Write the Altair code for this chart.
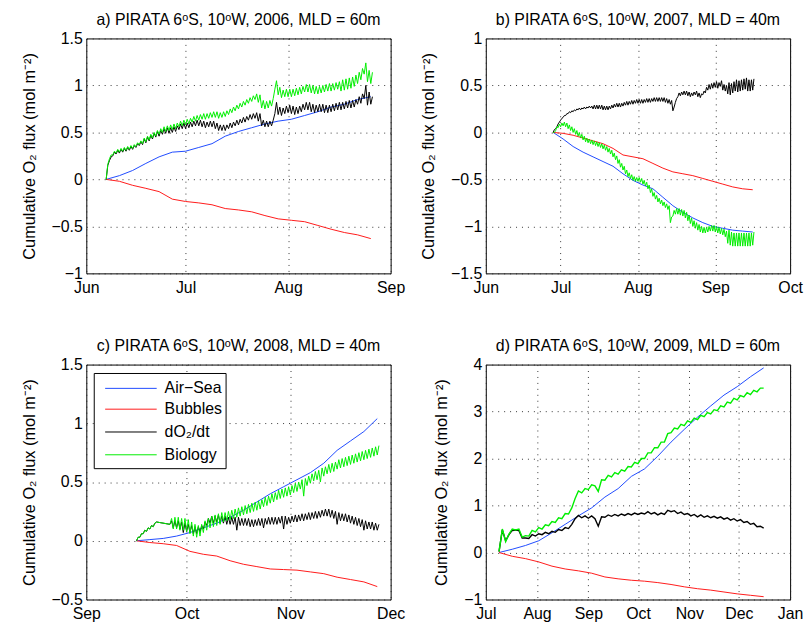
import altair as alt
import pandas as pd

SERIES = ["Air−Sea", "Bubbles", "dO₂/dt", "Biology"]
COLORS = ["#1f4bff", "#ff1a1a", "#000000", "#00ee00"]
YTITLE = "Cumulative O₂ flux (mol m⁻²)"
FONT = "Liberation Sans"

# Noisy series (dO2/dt, Biology) of panels a-c are given as the daily low (start of day)
# and daily high (mid-day); None marks days with no data.

# ---------------- panel a (2006) ----------------
A_TITLE = "a) PIRATA 6ᵒS, 10ᵒW, 2006, MLD = 60m"
A_START = "2006-06-07"
A_SMOOTH_STEP = 4
A_AIRSEA = [0, 0.04, 0.095, 0.17, 0.24, 0.29, 0.30, 0.34, 0.38, 0.46, 0.51, 0.55, 0.59,
            0.62, 0.64, 0.68, 0.72, 0.77, 0.80, 0.85, 0.88]
A_BUBBLES = [0, -0.02, -0.063, -0.095, -0.13, -0.21, -0.235, -0.25, -0.27, -0.31, -0.325,
             -0.345, -0.385, -0.42, -0.435, -0.45, -0.49, -0.53, -0.565, -0.59, -0.63]
A_DO2_LO = [0.00, 0.20, 0.25, 0.27, 0.28, 0.29, 0.30, 0.31, 0.32, 0.34,
            0.36, 0.37, 0.39, 0.41, 0.43, 0.45, 0.46, 0.48, 0.49, 0.49,
            0.50, 0.51, 0.53, 0.54, 0.54, 0.55, 0.56, 0.57, 0.57, 0.56,
            0.55, 0.56, 0.56, 0.54, 0.52, 0.52, 0.52, 0.54, 0.55, 0.57,
            0.58, 0.60, 0.61, 0.63, 0.64, 0.65, 0.62, 0.57, 0.56, 0.56,
            0.57, 0.70, 0.69, 0.68, 0.70, 0.71, 0.70, 0.69, 0.70, 0.72,
            0.74, 0.74, 0.72, 0.71, 0.72, 0.72, 0.71, 0.71, 0.72, 0.73,
            0.74, 0.74, 0.75, 0.76, 0.76, 0.77, 0.80, 0.81, 0.86, 0.79,
            0.80]
A_DO2_HI = [0.15, 0.24, 0.29, 0.31, 0.32, 0.33, 0.34, 0.35, 0.36, 0.38,
            0.40, 0.43, 0.45, 0.47, 0.49, 0.51, 0.52, 0.54, 0.55, 0.55,
            0.56, 0.57, 0.59, 0.60, 0.60, 0.61, 0.62, 0.63, 0.63, 0.62,
            0.61, 0.62, 0.62, 0.60, 0.58, 0.58, 0.58, 0.60, 0.61, 0.63,
            0.64, 0.66, 0.67, 0.69, 0.70, 0.71, 0.70, 0.63, 0.62, 0.62,
            0.63, 0.82, 0.77, 0.76, 0.78, 0.79, 0.78, 0.77, 0.78, 0.80,
            0.82, 0.82, 0.80, 0.79, 0.80, 0.80, 0.79, 0.79, 0.80, 0.81,
            0.82, 0.82, 0.83, 0.84, 0.84, 0.85, 0.88, 0.91, 1.00, 0.93,
            0.88]
A_BIO_LO = [0.00, 0.22, 0.26, 0.28, 0.29, 0.30, 0.31, 0.32, 0.33, 0.35,
            0.37, 0.38, 0.40, 0.42, 0.44, 0.46, 0.48, 0.50, 0.51, 0.52,
            0.53, 0.54, 0.56, 0.57, 0.58, 0.59, 0.61, 0.62, 0.63, 0.64,
            0.64, 0.65, 0.66, 0.66, 0.65, 0.66, 0.67, 0.69, 0.71, 0.73,
            0.75, 0.77, 0.79, 0.81, 0.83, 0.85, 0.82, 0.76, 0.75, 0.76,
            0.78, 0.96, 0.90, 0.87, 0.88, 0.88, 0.88, 0.89, 0.90, 0.91,
            0.93, 0.93, 0.92, 0.91, 0.91, 0.92, 0.93, 0.94, 0.94, 0.95,
            0.96, 0.94, 0.95, 0.96, 0.97, 0.99, 1.02, 1.06, 1.12, 1.04,
            1.02]
A_BIO_HI = [0.16, 0.26, 0.30, 0.32, 0.33, 0.34, 0.35, 0.36, 0.37, 0.39,
            0.41, 0.44, 0.46, 0.48, 0.50, 0.52, 0.54, 0.56, 0.57, 0.58,
            0.59, 0.60, 0.62, 0.63, 0.64, 0.65, 0.67, 0.68, 0.69, 0.70,
            0.70, 0.71, 0.72, 0.72, 0.71, 0.72, 0.73, 0.75, 0.77, 0.79,
            0.81, 0.83, 0.85, 0.87, 0.89, 0.91, 0.90, 0.84, 0.83, 0.84,
            0.86, 1.05, 0.98, 0.95, 0.96, 0.96, 0.96, 0.97, 0.98, 0.99,
            1.01, 1.01, 1.00, 0.99, 0.99, 1.00, 1.01, 1.02, 1.02, 1.03,
            1.04, 1.06, 1.07, 1.08, 1.09, 1.11, 1.14, 1.18, 1.24, 1.16,
            1.14]
A_XTICKS = [(2006, 6), (2006, 7), (2006, 8), (2006, 9)]
A_YTICKS = [-1, -0.5, 0, 0.5, 1, 1.5]

# ---------------- panel b (2007) ----------------
B_TITLE = "b) PIRATA 6ᵒS, 10ᵒW, 2007, MLD = 40m"
B_START = "2007-06-28"
B_SMOOTH_STEP = 4
B_AIRSEA = [0, -0.07, -0.15, -0.21, -0.26, -0.31, -0.36, -0.44, -0.51, -0.56, -0.60,
            -0.69, -0.78, -0.85, -0.91, -0.96, -1.00, -1.02, -1.04, -1.05, -1.06]
B_BUBBLES = [0, -0.01, -0.03, -0.06, -0.09, -0.12, -0.17, -0.24, -0.26, -0.28, -0.33,
             -0.38, -0.42, -0.44, -0.46, -0.49, -0.52, -0.55, -0.58, -0.60, -0.61]
B_DO2_LO = [0.00, 0.04, 0.09, 0.13, 0.16, 0.18, 0.20, 0.21, 0.22, 0.23,
            0.24, 0.24, 0.25, 0.25, 0.26, 0.26, 0.25, 0.25, 0.25, 0.25,
            0.24, 0.24, 0.24, 0.25, 0.26, 0.27, 0.27, 0.27, 0.28, 0.29,
            0.29, 0.30, 0.30, 0.31, 0.31, 0.31, 0.31, 0.32, 0.32, 0.32,
            0.33, 0.33, 0.33, 0.33, 0.33, 0.32, 0.31, 0.30, 0.23, 0.32,
            0.38, 0.39, 0.40, 0.40, 0.39, 0.38, 0.39, 0.40, 0.38, 0.37,
            0.40, 0.42, 0.45, 0.46, 0.47, 0.48, 0.47, 0.49, 0.45, 0.44,
            0.41, 0.40, 0.42, 0.44, 0.43, 0.44, 0.45, 0.46, 0.44, 0.44,
            0.45]
B_DO2_HI = [0.03, 0.06, 0.11, 0.15, 0.18, 0.20, 0.22, 0.23, 0.24, 0.25,
            0.26, 0.26, 0.27, 0.27, 0.28, 0.28, 0.29, 0.29, 0.29, 0.29,
            0.28, 0.28, 0.28, 0.29, 0.30, 0.31, 0.31, 0.31, 0.32, 0.33,
            0.33, 0.34, 0.34, 0.35, 0.35, 0.35, 0.35, 0.36, 0.36, 0.36,
            0.37, 0.37, 0.37, 0.37, 0.37, 0.36, 0.35, 0.34, 0.27, 0.36,
            0.42, 0.43, 0.44, 0.44, 0.43, 0.42, 0.43, 0.44, 0.42, 0.41,
            0.44, 0.48, 0.51, 0.52, 0.53, 0.54, 0.53, 0.55, 0.51, 0.50,
            0.53, 0.52, 0.54, 0.56, 0.55, 0.56, 0.57, 0.58, 0.56, 0.56,
            0.57]
B_BIO_LO = [0.00, 0.02, 0.05, 0.06, 0.07, 0.06, 0.04, 0.02, 0.00, -0.02,
            -0.04, -0.06, -0.08, -0.10, -0.11, -0.12, -0.13, -0.14, -0.15, -0.16,
            -0.175, -0.19, -0.21, -0.23, -0.26, -0.29, -0.33, -0.37, -0.40, -0.44,
            -0.47, -0.49, -0.51, -0.52, -0.52, -0.53, -0.55, -0.57, -0.60, -0.64,
            -0.68, -0.71, -0.74, -0.76, -0.78, -0.80, -0.82, -0.96, -0.89, -0.87,
            -0.87, -0.88, -0.89, -0.91, -0.94, -0.97, -1.00, -1.02, -1.04, -1.06,
            -1.07, -1.07, -1.06, -1.05, -1.05, -1.06, -1.07, -1.08, -1.09, -1.11,
            -1.18, -1.20, -1.21, -1.21, -1.21, -1.21, -1.21, -1.21, -1.21, -1.21,
            -1.20]
B_BIO_HI = [0.00, 0.06, 0.09, 0.10, 0.11, 0.10, 0.08, 0.06, 0.04, 0.02,
            0.00, -0.02, -0.04, -0.06, -0.07, -0.08, -0.09, -0.10, -0.11, -0.12,
            -0.135, -0.15, -0.17, -0.19, -0.22, -0.25, -0.29, -0.33, -0.36, -0.40,
            -0.43, -0.45, -0.47, -0.48, -0.48, -0.49, -0.51, -0.53, -0.56, -0.60,
            -0.64, -0.67, -0.70, -0.72, -0.74, -0.76, -0.78, -0.90, -0.83, -0.81,
            -0.81, -0.82, -0.83, -0.85, -0.88, -0.91, -0.94, -0.96, -0.98, -1.00,
            -1.01, -1.01, -1.00, -0.99, -0.99, -1.00, -1.01, -1.02, -1.03, -1.05,
            -1.04, -1.06, -1.07, -1.07, -1.07, -1.07, -1.07, -1.07, -1.07, -1.07,
            -1.06]
B_XTICKS = [(2007, 6), (2007, 7), (2007, 8), (2007, 9), (2007, 10)]
B_YTICKS = [-1.5, -1, -0.5, 0, 0.5, 1]

# ---------------- panel c (2008) ----------------
C_TITLE = "c) PIRATA 6ᵒS, 10ᵒW, 2008, MLD = 40m"
C_START = "2008-09-16"
C_SMOOTH_STEP = 4
C_AIRSEA = [0, 0.01, 0.02, 0.04, 0.07, 0.11, 0.15, 0.20, 0.26, 0.33, 0.40, 0.46, 0.52,
            0.58, 0.66, 0.77, 0.85, 0.93, 1.04]
C_BUBBLES = [0, -0.015, -0.025, -0.04, -0.09, -0.115, -0.13, -0.17, -0.20, -0.22, -0.24,
             -0.245, -0.25, -0.265, -0.28, -0.31, -0.33, -0.35, -0.39]
C_DO2_LO = [0.00, 0.03, 0.06, 0.08, 0.10, 0.12, 0.16, None, None, None,
            0.14, 0.11, 0.11, 0.10, 0.07, 0.08, 0.07, 0.06, 0.06, 0.07,
            0.10, 0.13, 0.15, 0.15, 0.16, 0.15, 0.15, 0.14, 0.14, 0.14,
            0.09, 0.13, 0.13, 0.13, 0.12, 0.12, 0.13, 0.13, 0.11, 0.14,
            0.14, 0.14, 0.14, 0.15, 0.10, 0.14, 0.15, 0.16, 0.16, 0.17,
            0.17, 0.18, 0.18, 0.19, 0.19, 0.20, 0.21, 0.21, 0.20, 0.19,
            0.14, 0.17, 0.17, 0.16, 0.15, 0.14, 0.13, 0.12, 0.09, 0.10,
            0.10, 0.09, 0.09]
C_DO2_HI = [0.03, 0.06, 0.09, 0.11, 0.13, 0.15, None, None, None, None,
            0.17, 0.17, 0.17, 0.16, 0.15, 0.14, 0.13, 0.12, 0.12, 0.13,
            0.16, 0.19, 0.21, 0.21, 0.22, 0.21, 0.21, 0.20, 0.20, 0.20,
            0.20, 0.19, 0.19, 0.19, 0.18, 0.18, 0.19, 0.19, 0.19, 0.20,
            0.20, 0.20, 0.20, 0.21, 0.21, 0.20, 0.21, 0.22, 0.22, 0.23,
            0.23, 0.24, 0.24, 0.25, 0.25, 0.26, 0.27, 0.27, 0.26, 0.25,
            0.24, 0.23, 0.23, 0.22, 0.21, 0.20, 0.19, 0.18, 0.17, 0.16,
            0.16, 0.15, 0.14]
C_BIO_LO = [0.00, 0.03, 0.06, 0.08, 0.10, 0.12, 0.16, None, None, None,
            0.14, 0.10, 0.10, 0.09, 0.09, 0.08, 0.06, 0.04, 0.03, 0.04,
            0.07, 0.09, 0.11, 0.12, 0.13, 0.14, 0.16, 0.17, 0.18, 0.19,
            0.20, 0.21, 0.22, 0.23, 0.24, 0.25, 0.26, 0.27, 0.29, 0.30,
            0.32, 0.33, 0.35, 0.36, 0.37, 0.38, 0.39, 0.41, 0.42, 0.44,
            0.38, 0.47, 0.49, 0.51, 0.52, 0.50, 0.55, 0.57, 0.58, 0.59,
            0.61, 0.62, 0.63, 0.64, 0.65, 0.66, 0.67, 0.68, 0.69, 0.70,
            0.71, 0.72, 0.73]
C_BIO_HI = [0.03, 0.06, 0.09, 0.11, 0.13, 0.15, None, None, None, None,
            0.19, 0.20, 0.20, 0.19, 0.19, 0.18, 0.16, 0.14, 0.13, 0.14,
            0.17, 0.19, 0.21, 0.22, 0.23, 0.24, 0.24, 0.25, 0.26, 0.27,
            0.28, 0.29, 0.30, 0.31, 0.32, 0.33, 0.34, 0.35, 0.37, 0.38,
            0.40, 0.41, 0.43, 0.44, 0.45, 0.46, 0.47, 0.49, 0.50, 0.52,
            0.53, 0.55, 0.57, 0.59, 0.60, 0.62, 0.63, 0.65, 0.66, 0.67,
            0.69, 0.70, 0.71, 0.72, 0.73, 0.74, 0.75, 0.76, 0.77, 0.78,
            0.79, 0.80, 0.81]
C_XTICKS = [(2008, 9), (2008, 10), (2008, 11), (2008, 12)]
C_YTICKS = [-0.5, 0, 0.5, 1, 1.5]

# ---------------- panel d (2009) ----------------
D_TITLE = "d) PIRATA 6ᵒS, 10ᵒW, 2009, MLD = 60m"
D_START = "2009-07-09"
D_SMOOTH_STEP = 8
D_NOISY_STEP = 2
D_AIRSEA = [0, 0.07, 0.15, 0.25, 0.42, 0.60, 0.78, 0.95, 1.18, 1.36, 1.62, 1.78, 2.05,
            2.35, 2.62, 2.88, 3.12, 3.35, 3.53, 3.74, 3.93]
D_BUBBLES = [0, -0.08, -0.13, -0.20, -0.29, -0.35, -0.39, -0.44, -0.52, -0.56, -0.59,
             -0.61, -0.64, -0.68, -0.73, -0.77, -0.80, -0.84, -0.88, -0.91, -0.94]
D_DO2 = [0.02, 0.48, 0.25, 0.38, 0.47, 0.48, 0.47, 0.31, 0.31, 0.30,
         0.38, 0.35, 0.40, 0.38, 0.43, 0.40, 0.45, 0.43, 0.49, 0.47,
         0.53, 0.51, 0.60, 0.72, 0.79, 0.74, 0.78, 0.73, 0.78, 0.72,
         0.56, 0.76, 0.75, 0.80, 0.77, 0.81, 0.78, 0.82, 0.79, 0.83,
         0.80, 0.84, 0.81, 0.84, 0.82, 0.87, 0.82, 0.85, 0.80, 0.84,
         0.81, 0.90, 0.87, 0.89, 0.83, 0.86, 0.81, 0.83, 0.78, 0.81,
         0.76, 0.80, 0.75, 0.78, 0.74, 0.77, 0.73, 0.76, 0.71, 0.74,
         0.69, 0.72, 0.67, 0.70, 0.64, 0.66, 0.60, 0.62, 0.55, 0.56,
         0.52]
D_BIO = [0.02, 0.50, 0.23, 0.39, 0.50, 0.48, 0.50, 0.33, 0.36, 0.35,
         0.47, 0.44, 0.53, 0.50, 0.59, 0.57, 0.66, 0.64, 0.74, 0.72,
         0.83, 0.82, 0.95, 1.15, 1.31, 1.27, 1.36, 1.34, 1.44, 1.42,
         1.30, 1.55, 1.54, 1.64, 1.61, 1.70, 1.67, 1.76, 1.73, 1.83,
         1.82, 1.92, 1.89, 2.00, 2.00, 2.12, 2.12, 2.23, 2.23, 2.35,
         2.35, 2.53, 2.55, 2.65, 2.63, 2.73, 2.70, 2.80, 2.77, 2.86,
         2.83, 2.92, 2.89, 2.98, 2.95, 3.04, 3.02, 3.12, 3.10, 3.20,
         3.18, 3.28, 3.25, 3.34, 3.31, 3.40, 3.36, 3.45, 3.42, 3.50,
         3.50]
D_XTICKS = [(2009, 7), (2009, 8), (2009, 9), (2009, 10), (2009, 11), (2009, 12), (2010, 1)]
D_YTICKS = [-1, 0, 1, 2, 3, 4]

# legend box layout inside panel c (pixels from the plot's top-left corner)
LEG_BOX = (8, 9, 141, 105)
LEG_LINE_X = (19, 71)
LEG_TEXT_X = 79
LEG_ROWS_Y = [24, 45, 68, 91]


def iso(ts):
    return ts.strftime("%Y-%m-%dT%H:%M:%SZ")


def step_frame(start, step, values, name):
    t0 = pd.Timestamp(start)
    rows = [(iso(t0 + pd.Timedelta(days=i * step)), v) for i, v in enumerate(values)]
    return pd.DataFrame({"date": [r[0] for r in rows], "value": [r[1] for r in rows],
                         "series": name})


def lohi_frame(start, lo, hi, name):
    t0 = pd.Timestamp(start)
    rows = []
    for i, (a, b) in enumerate(zip(lo, hi)):
        day = t0 + pd.Timedelta(days=i)
        if a is not None:
            rows.append((iso(day), a))
        if b is not None:
            rows.append((iso(day + pd.Timedelta(hours=12)), b))
    return pd.DataFrame({"date": [r[0] for r in rows], "value": [r[1] for r in rows],
                         "series": name})


def month(ym):
    return alt.DateTime(year=ym[0], month=ym[1], date=1, utc=True)


def legend_layers():
    one = pd.DataFrame({"k": [0]})
    x0, y0, x1, y1 = LEG_BOX
    out = [alt.Chart(one).mark_rect(fill="white", stroke="black", strokeWidth=1).encode(
        x=alt.value(x0), x2=alt.value(x1), y=alt.value(y0), y2=alt.value(y1))]
    for name, col, yy in zip(SERIES, COLORS, LEG_ROWS_Y):
        out.append(alt.Chart(one).mark_rule(color=col, strokeWidth=1).encode(
            x=alt.value(LEG_LINE_X[0]), x2=alt.value(LEG_LINE_X[1]), y=alt.value(yy)))
        out.append(alt.Chart(one).mark_text(align="left", baseline="middle", font=FONT,
                                            fontSize=16, color="black").encode(
            x=alt.value(LEG_TEXT_X), y=alt.value(yy), text=alt.value(name)))
    return out


def panel(title, frames, xticks, yticks, legend=False, noisy_width=1.0):
    xvals = [month(t) for t in xticks]
    layers = []
    for k, df in enumerate(frames):
        layers.append(
            alt.Chart(df).mark_line(strokeWidth=(1.0 if k < 2 else noisy_width), clip=True).encode(
                x=alt.X("date:T",
                        scale=alt.Scale(type="utc", domain=[xvals[0], xvals[-1]]),
                        axis=alt.Axis(values=xvals, format="%b", title=None)),
                y=alt.Y("value:Q",
                        scale=alt.Scale(domain=[yticks[0], yticks[-1]], nice=False, zero=False),
                        axis=alt.Axis(values=yticks, format="~g", title=YTITLE)),
                color=alt.Color("series:N", scale=alt.Scale(domain=SERIES, range=COLORS),
                                legend=None),
            )
        )
    if legend:
        layers += legend_layers()
    return alt.layer(*layers).properties(
        width=307, height=237,
        title=alt.TitleParams(title, anchor="middle", fontSize=16, font=FONT,
                              fontWeight="normal", color="black", offset=3),
    )


pa = panel(A_TITLE, [step_frame(A_START, A_SMOOTH_STEP, A_AIRSEA, SERIES[0]),
                     step_frame(A_START, A_SMOOTH_STEP, A_BUBBLES, SERIES[1]),
                     lohi_frame(A_START, A_DO2_LO, A_DO2_HI, SERIES[2]),
                     lohi_frame(A_START, A_BIO_LO, A_BIO_HI, SERIES[3])],
           A_XTICKS, A_YTICKS)
pb = panel(B_TITLE, [step_frame(B_START, B_SMOOTH_STEP, B_AIRSEA, SERIES[0]),
                     step_frame(B_START, B_SMOOTH_STEP, B_BUBBLES, SERIES[1]),
                     lohi_frame(B_START, B_DO2_LO, B_DO2_HI, SERIES[2]),
                     lohi_frame(B_START, B_BIO_LO, B_BIO_HI, SERIES[3])],
           B_XTICKS, B_YTICKS)
pc = panel(C_TITLE, [step_frame(C_START, C_SMOOTH_STEP, C_AIRSEA, SERIES[0]),
                     step_frame(C_START, C_SMOOTH_STEP, C_BUBBLES, SERIES[1]),
                     lohi_frame(C_START, C_DO2_LO, C_DO2_HI, SERIES[2]),
                     lohi_frame(C_START, C_BIO_LO, C_BIO_HI, SERIES[3])],
           C_XTICKS, C_YTICKS, legend=True)
pd_ = panel(D_TITLE, [step_frame(D_START, D_SMOOTH_STEP, D_AIRSEA, SERIES[0]),
                      step_frame(D_START, D_SMOOTH_STEP, D_BUBBLES, SERIES[1]),
                      step_frame(D_START, D_NOISY_STEP, D_DO2, SERIES[2]),
                      step_frame(D_START, D_NOISY_STEP, D_BIO, SERIES[3])],
            D_XTICKS, D_YTICKS, noisy_width=1.4)

chart = alt.concat(pa, pb, pc, pd_, columns=2, spacing={"row": 92, "column": 96},
                   bounds="flush").resolve_scale(
    x="independent", y="independent", color="independent"
).properties(
    padding={"left": 12, "top": 0, "right": 0, "bottom": 0}
).configure_axis(
    labelFont=FONT, labelFontSize=16, labelColor="black",
    titleFont=FONT, titleFontSize=16.5, titleFontWeight="normal", titleColor="black",
    grid=True, gridColor="#222222", gridDash=[1, 5], gridWidth=1, gridOpacity=0.9,
    domain=False, ticks=False, labelPadding=4, titlePadding=14,
    labelOverlap=False, labelFlush=False, labelBound=False,
).configure_axisX(labelPadding=6).configure_view(stroke="black", strokeWidth=1)

chart.save("out.html", embed_options={"renderer": "svg", "actions": False})
